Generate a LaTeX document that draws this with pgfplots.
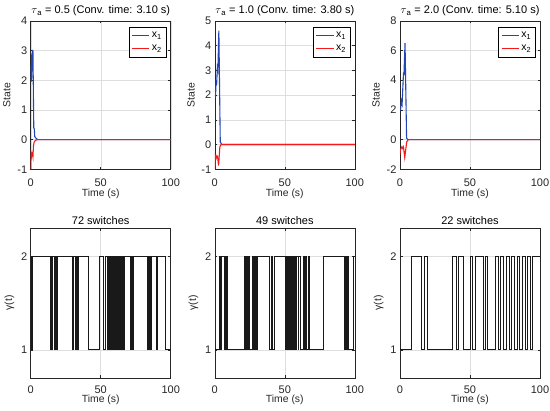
\documentclass[border=0pt]{standalone}
\usepackage{fontspec}
\setmainfont{Liberation Sans}
\usepackage{pgfplots}
\pgfplotsset{compat=1.18}

\definecolor{mblue}{RGB}{35,70,180}
\definecolor{mred}{RGB}{245,25,25}
\definecolor{axgray}{RGB}{38,38,38}

\pgfplotsset{
  mstyle/.style={
    scale only axis, width=140pt,
    axis line style={axgray, line width=0.5pt},
    every tick/.style={axgray, line width=0.5pt},
    tick align=inside,
    major tick length=2.5pt,
    grid=major, grid style={black!13, line width=0.4pt},
    ticklabel style={font=\fontsize{11}{13}\selectfont, text=axgray},
    label style={font=\fontsize{10.4}{12}\selectfont, text=axgray},
    title style={font=\fontsize{11}{13}\selectfont, text=black},
    xmin=0, xmax=100, xtick={0,50,100}, xticklabels={0,50,100},
    xlabel={Time (s)},
  },
  topstyle/.style={
    mstyle, height=148.5pt,
    xticklabel style={anchor=center, yshift=-13pt, inner sep=0pt},
    xlabel style={at={(axis description cs:0.5,-0.165)}, anchor=center, inner sep=0pt},
    ylabel={State},
    title style={at={(axis description cs:0.5,1)}, anchor=base, yshift=1.3pt},
    legend style={at={(0.97,0.957)}, anchor=north east,
      font=\fontsize{10.5}{12}\selectfont, fill=white, inner sep=2.5pt, row sep=2.5pt},
    legend cell align=left,
  },
  botstyle/.style={
    mstyle, height=149.5pt,
    xticklabel style={anchor=center, yshift=-11.5pt, inner sep=0pt},
    xlabel style={at={(axis description cs:0.5,-0.147)}, anchor=center, inner sep=0pt},
    ymin=0.7, ymax=2.3, ytick={1,2}, yticklabels={1,2},
    ylabel={γ(t)},
    title style={at={(axis description cs:0.5,1)}, anchor=base, yshift=-2.2pt},
  },
  sw/.style={const plot, black!90, line width=0.9pt, no marks},
}

\begin{document}
\begin{tikzpicture}
\useasboundingbox (0,0) rectangle (550pt,411pt);

% ---------- top left ----------
\begin{axis}[topstyle, at={(30.7pt,241.7pt)}, anchor=south west,
  ymin=-1, ymax=4, ytick={-1,0,1,2,3,4}, yticklabels={-1,0,1,2,3,4},
  title={$\tau$\textsubscript{a} = 0.5 (Conv. time: 3.10 s)}]
\addplot[mblue, line width=1.1pt, no marks] coordinates {
(0,2.0)(0.3,2.5)(0.5,1.95)(0.8,2.9)(1.0,2.3)(1.3,3.0)(1.6,3.0)(2.0,1.2)(2.2,0.4)(2.6,0.35)(2.9,0.1)(3.5,0.06)(4.2,0.03)(5,0)(100,0)};
\addplot[mred, line width=1.1pt, no marks] coordinates {
(0,-1)(0.3,-0.5)(0.6,-0.55)(0.9,-0.45)(1.3,-0.5)(1.6,-0.58)(2.0,-0.2)(2.5,-0.08)(3.5,-0.02)(5,0)(100,0)};
\legend{x\textsubscript{1},x\textsubscript{2}}
\end{axis}

% ---------- top middle ----------
\begin{axis}[topstyle, at={(214.8pt,241.7pt)}, anchor=south west,
  ymin=-1, ymax=5, ytick={-1,0,1,2,3,4,5}, yticklabels={-1,0,1,2,3,4,5},
  title={$\tau$\textsubscript{a} = 1.0 (Conv. time: 3.80 s)}]
\addplot[mblue, line width=1.1pt, no marks] coordinates {
(0,2.0)(0.5,1.95)(1.0,2.6)(1.3,2.4)(1.8,3.1)(2.2,3.0)(2.9,4.6)(3.9,0.1)(4.5,0.05)(5,0)(100,0)};
\addplot[mred, line width=1.1pt, no marks] coordinates {
(0,-1)(0.4,-0.45)(1.0,-0.55)(1.5,-0.45)(2.0,-0.5)(2.7,-0.85)(3.6,-0.1)(4.5,0)(100,0)};
\legend{x\textsubscript{1},x\textsubscript{2}}
\end{axis}

% ---------- top right ----------
\begin{axis}[topstyle, at={(400pt,241.7pt)}, anchor=south west,
  ymin=-2, ymax=8, ytick={-2,0,2,4,6,8}, yticklabels={-2,0,2,4,6,8},
  title={$\tau$\textsubscript{a} = 2.0 (Conv. time: 5.10 s)}]
\addplot[mblue, line width=1.1pt, no marks] coordinates {
(0,2.0)(0.4,2.0)(1.0,2.6)(1.5,2.4)(2.5,4.5)(2.8,4.3)(3.6,6.5)(4.7,0.1)(5.5,0.02)(6,0)(100,0)};
\addplot[mred, line width=1.1pt, no marks] coordinates {
(0,-1)(0.3,-0.7)(1.4,-0.48)(2.0,-0.6)(2.5,-0.5)(3.4,-1.2)(4.8,-0.15)(6,0)(100,0)};
\legend{x\textsubscript{1},x\textsubscript{2}}
\end{axis}

% ---------- bottom left ----------
\begin{axis}[botstyle, at={(30.7pt,33.2pt)}, anchor=south west, title={72 switches}]
\addplot[sw] coordinates {
(0,1)(0.3,2)(0.7,1)(1.1,2)
(14.0,1)(14.5,2)(15.0,1)(15.6,2)
(17.3,1)(17.8,2)(18.3,1)(18.9,2)
(29.8,1)(30.5,2)
(31.9,1)(32.5,2)(33.0,1)(33.6,2)(34.0,1)(34.4,2)
(41.4,1)(48.8,2)
(52.2,1)(53.6,2)
(54.8,1)(55.3,2)(55.8,1)(56.3,2)(56.8,1)(57.3,2)(57.8,1)(58.3,2)
(59.3,1)(59.8,2)(60.3,1)(60.8,2)(61.3,1)(61.8,2)(62.3,1)(62.8,2)
(63.3,1)(63.8,2)(64.3,1)(64.8,2)(65.3,1)(65.8,2)(66.3,1)(66.8,2)
(71.4,1)(71.9,2)(72.4,1)(73.0,2)(73.3,1)(73.7,2)
(83.4,1)(84.0,2)(84.6,1)(85.2,2)(85.8,1)(86.4,2)
(89.5,1)(90.4,2)
(95.9,1)(100,1)};
\end{axis}

% ---------- bottom middle ----------
\begin{axis}[botstyle, at={(214.8pt,33.2pt)}, anchor=south west, title={49 switches}]
\addplot[sw] coordinates {
(0,1)(3.0,2)(3.5,1)(4.0,2)(4.5,1)(5.0,2)(7.0,1)(7.5,2)(8.0,1)(8.5,2)(9.3,1)
(21.2,2)(22.0,1)(22.6,2)(23.4,1)(24.0,2)(24.6,1)(26.6,2)(27.2,1)(27.8,2)(28.4,1)(29.0,2)(29.6,1)(30.2,2)
(39.2,1)(40.8,2)(41.4,1)(42.7,2)
(50.6,1)(51.2,2)(51.8,1)(52.4,2)(53.0,1)(53.6,2)(54.2,1)(54.8,2)(55.6,1)(56.2,2)(56.8,1)(57.4,2)(58.0,1)(58.6,2)(59.4,1)
(60.1,2)(61.1,1)
(63.0,2)(63.8,1)(65.0,2)(65.8,1)(66.8,2)(67.8,1)
(77.3,2)(92.8,1)(93.5,2)(94.2,1)(95.0,2)(95.8,1)(98.8,2)(100,2)};
\end{axis}

% ---------- bottom right ----------
\begin{axis}[botstyle, at={(400pt,33.2pt)}, anchor=south west, title={22 switches}]
\addplot[sw] coordinates {
(0,1)(8,2)(15.5,1)(17.4,2)(19.8,1)(37.6,2)(40,1)(42,2)(45.6,1)(50.2,2)(52,1)(53.6,2)(59.5,1)
(60.7,2)(62.6,1)(67.9,2)(70.2,1)(71.7,2)(73.6,1)(75.7,2)(77.9,1)(79.8,2)(81.7,1)(83.6,2)(85.5,1)
(87.4,2)(89.3,1)(91.2,2)(93.1,1)(94.8,2)(100,2)};
\end{axis}
\end{tikzpicture}
\end{document}
